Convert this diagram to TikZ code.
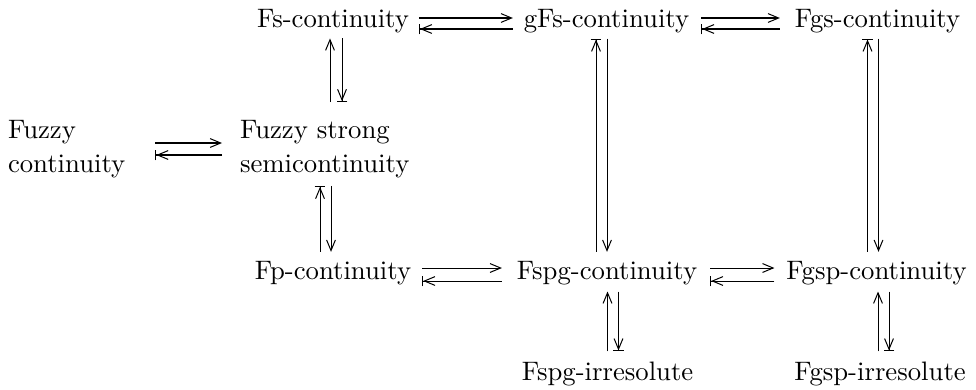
\documentclass[tikz,border=0pt]{standalone}
\usetikzlibrary{arrows.meta,calc}
\begin{document}
\begin{tikzpicture}[x=0.3968pt,y=-0.3968pt,
  lbl/.style={inner sep=0pt,outer sep=0pt,font=\fontsize{10.6pt}{13.5pt}\selectfont},
  two/.style={lbl,align=left},
  fw/.style={-{Straight Barb[length=4.2pt,width=3.5pt]}},
  bk/.style={-{Straight Barb[length=4.2pt,width=3.5pt,sep=0pt]Bar[width=4.2pt]}},
  line width=0.4pt]
\useasboundingbox (0,0) rectangle (976,389);
% row 1
\node[lbl,anchor=base] (Fs)  at (333,27) {Fs-continuity};
\node[lbl,anchor=base] (gFs) at (606.5,27) {gFs-continuity};
\node[lbl,anchor=base] (Fgs) at (877.5,27) {Fgs-continuity};
% row 2
\node[two,anchor=west] (FC)  at (8,149) {Fuzzy\\continuity};
\node[two,anchor=west] (FSS) at (240,149) {Fuzzy strong\\semicontinuity};
% row 3
\node[lbl,anchor=base] (Fp)   at (333,279) {Fp-continuity};
\node[lbl,anchor=base] (Fspg) at (607,279) {Fspg-continuity};
\node[lbl,anchor=base] (Fgsp) at (876.5,279) {Fgsp-continuity};
% row 4
\node[lbl,anchor=base] (Ispg) at (607.5,380) {Fspg-irresolute};
\node[lbl,anchor=base] (Igsp) at (880,380) {Fgsp-irresolute};

% horizontal pairs
\draw[fw] ($(Fs.base east)+(10,-9)$) -- ($(gFs.base west |- Fs.base)+(-11,-9)$);
\draw[bk] ($(gFs.base west)+(-11,2)$) -- ($(Fs.base east |- gFs.base)+(10,2)$);
\draw[fw] ($(gFs.base east)+(12,-9)$) -- ($(Fgs.base west |- gFs.base)+(-15,-9)$);
\draw[bk] ($(Fgs.base west)+(-15,2)$) -- ($(gFs.base east |- Fgs.base)+(12,2)$);

\draw[fw] ($(FC.east)+(30,-6)$) -- ($(FSS.west |- FC.east)+(-18,-6)$);
\draw[bk] ($(FSS.west)+(-18,6)$) -- ($(FC.east |- FSS.west)+(30,6)$);

\draw[fw] ($(Fp.base east)+(11,-11)$) -- ($(Fspg.base west |- Fp.base)+(-15,-11)$);
\draw[bk] ($(Fspg.base west)+(-15,2)$) -- ($(Fp.base east |- Fspg.base)+(11,2)$);
\draw[fw] ($(Fspg.base east)+(13,-11)$) -- ($(Fgsp.base west |- Fspg.base)+(-12,-11)$);
\draw[bk] ($(Fgsp.base west)+(-12,2)$) -- ($(Fspg.base east |- Fgsp.base)+(13,2)$);

% vertical pairs
\draw[fw] ($(Fs.south |- FSS.north)+(-3,-18)$) -- ($(Fs.south)+(-3,6)$);
\draw[bk] ($(Fs.south)+(9,6)$) -- ($(Fs.south |- FSS.north)+(9,-18)$);

\draw[bk] ($(Fp.north)+(-13,-9)$) -- ($(Fp.north |- FSS.south)+(-13,8)$);
\draw[fw] ($(Fp.north |- FSS.south)+(-2,8)$) -- ($(Fp.north)+(-2,-9)$);

\draw[bk] ($(Fspg.north)+(-11,-9)$) -- ($(Fspg.north |- gFs.south)+(-11,6)$);
\draw[fw] ($(Fspg.north |- gFs.south)+(0,6)$) -- ($(Fspg.north)+(0,-9)$);

\draw[bk] ($(Fgsp.north)+(-9,-9)$) -- ($(Fgsp.north |- Fgs.south)+(-9,6)$);
\draw[fw] ($(Fgsp.north |- Fgs.south)+(2,6)$) -- ($(Fgsp.north)+(2,-9)$);

\draw[fw] ($(Ispg.north)+(0,-10)$) -- ($(Ispg.north |- Fspg.south)+(0,7)$);
\draw[bk] ($(Ispg.north |- Fspg.south)+(11,7)$) -- ($(Ispg.north)+(11,-10)$);

\draw[fw] ($(Igsp.north)+(-2,-10)$) -- ($(Igsp.north |- Fgsp.south)+(-2,7)$);
\draw[bk] ($(Igsp.north |- Fgsp.south)+(9,7)$) -- ($(Igsp.north)+(9,-10)$);
\end{tikzpicture}
\end{document}
